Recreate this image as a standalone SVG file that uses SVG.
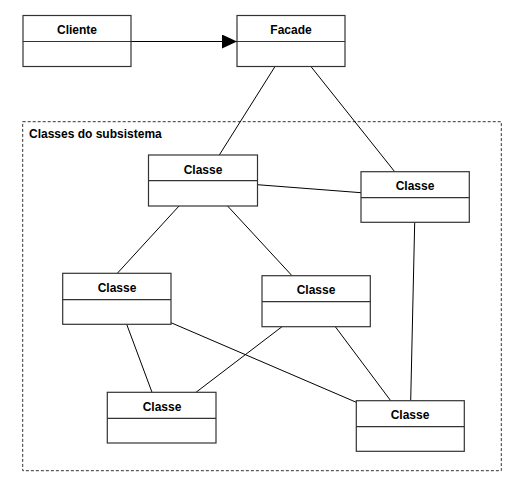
<svg xmlns="http://www.w3.org/2000/svg" width="524" height="484" viewBox="0 0 524 484">
<style>
.box{fill:#fff;stroke:#333;stroke-width:1.2}
.div{stroke:#333;stroke-width:1.2}
.t{font-family:"Liberation Sans",Arial,sans-serif;font-weight:bold;font-size:12px;text-anchor:middle;fill:#000}
.c{stroke:#000;stroke-width:1;fill:none}
</style>
<defs>
<marker id="tri" viewBox="0 0 15 14" refX="15" refY="7" markerWidth="15" markerHeight="14" markerUnits="userSpaceOnUse" orient="auto">
<path d="M0,0 L15,7 L0,14 Z" fill="#000"/>
</marker>
</defs>
<rect x="22.7" y="121.7" width="478.6" height="349" fill="none" stroke="#333" stroke-width="1" stroke-dasharray="3,2"/>
<text x="29" y="138" style="font-family:'Liberation Sans',Arial,sans-serif;font-weight:bold;font-size:12px" fill="#000">Classes do subsistema</text>
<g id="connectors">
<line class="c" x1="131" y1="41.5" x2="237" y2="41.5" marker-end="url(#tri)"/>
<line class="c" x1="274.7" y1="67" x2="219.3" y2="155"/>
<line class="c" x1="311.3" y1="67" x2="394.7" y2="171.7"/>
<line class="c" x1="257.3" y1="184.7" x2="361" y2="192.7"/>
<line class="c" x1="179.3" y1="205.7" x2="117.3" y2="273.3"/>
<line class="c" x1="227.3" y1="205.7" x2="292" y2="275.7"/>
<line class="c" x1="126.7" y1="324.3" x2="152" y2="392.3"/>
<line class="c" x1="171" y1="322.7" x2="356.3" y2="402.3"/>
<line class="c" x1="282" y1="326.7" x2="196" y2="392.3"/>
<line class="c" x1="335.3" y1="326.7" x2="390.7" y2="400.7"/>
<line class="c" x1="414.7" y1="222.3" x2="410.7" y2="400.7"/>
</g>
<g id="cliente">
<rect class="box" x="23" y="15.5" width="108" height="51"/>
<line class="div" x1="23" y1="41.5" x2="131" y2="41.5"/>
<text class="t" x="77" y="34">Cliente</text>
</g>
<g id="facade">
<rect class="box" x="237" y="15.5" width="108" height="51"/>
<line class="div" x1="237" y1="41.5" x2="345" y2="41.5"/>
<text class="t" x="291" y="34">Facade</text>
</g>
<g id="classe1">
<rect class="box" x="148.5" y="155" width="109" height="51"/>
<line class="div" x1="148.5" y1="180.7" x2="257.5" y2="180.7"/>
<text class="t" x="203" y="173.5">Classe</text>
</g>
<g id="classe2">
<rect class="box" x="361" y="171.7" width="108.3" height="50.6"/>
<line class="div" x1="361" y1="197.7" x2="469.3" y2="197.7"/>
<text class="t" x="415" y="190">Classe</text>
</g>
<g id="classe3">
<rect class="box" x="62.7" y="273.3" width="108.3" height="51"/>
<line class="div" x1="62.7" y1="299.7" x2="171" y2="299.7"/>
<text class="t" x="117" y="292">Classe</text>
</g>
<g id="classe4">
<rect class="box" x="262" y="275.7" width="108.3" height="51"/>
<line class="div" x1="262" y1="301.7" x2="370.3" y2="301.7"/>
<text class="t" x="316" y="294">Classe</text>
</g>
<g id="classe5">
<rect class="box" x="107.3" y="392.3" width="108.7" height="50.7"/>
<line class="div" x1="107.3" y1="418.3" x2="216" y2="418.3"/>
<text class="t" x="162" y="411">Classe</text>
</g>
<g id="classe6">
<rect class="box" x="356.3" y="400.7" width="108" height="50.6"/>
<line class="div" x1="356.3" y1="426.7" x2="464.3" y2="426.7"/>
<text class="t" x="410" y="419">Classe</text>
</g>
</svg>
